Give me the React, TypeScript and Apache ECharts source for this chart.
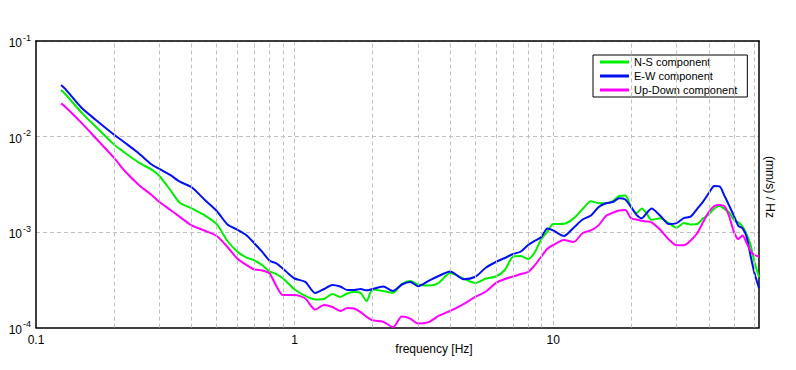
import React, { useEffect, useRef } from 'react';
import * as echarts from 'echarts';

// Frequency samples [Hz]
const frequencies = [
  0.125, 0.13, 0.15, 0.17, 0.2, 0.22, 0.25, 0.28, 0.3, 0.33,
  0.36, 0.4, 0.45, 0.5, 0.55, 0.6, 0.65, 0.7, 0.75, 0.8,
  0.85, 0.9, 0.95, 1.0, 1.1, 1.2, 1.3, 1.4, 1.5, 1.6,
  1.7, 1.8, 1.9, 2.0, 2.2, 2.4, 2.6, 2.8, 3.0, 3.3,
  3.6, 4.0, 4.5, 5.0, 5.5, 6.0, 6.5, 7.0, 7.5, 8.0,
  8.5, 9.0, 9.5, 10, 11, 12, 13, 14, 15, 16,
  17, 18, 19, 20, 21, 22, 23, 24, 26, 28,
  30, 32, 34, 36, 38, 40, 42, 44, 46, 48,
  50, 52, 54, 56, 58, 60, 62.5,
];

// (mm/s)/Hz
const nsComponent = [
  0.0307, 0.0277, 0.0178, 0.0127, 0.00827, 0.0068, 0.00532, 0.0045, 0.00386, 0.00277,
  0.00202, 0.00177, 0.00149, 0.00121, 0.000805, 0.000625, 0.000541, 0.000503, 0.000448, 0.000387,
  0.000363, 0.000328, 0.000285, 0.00025, 0.000214, 0.000197, 0.000199, 0.000224, 0.000209, 0.000227,
  0.000235, 0.00023, 0.00019, 0.00025, 0.000241, 0.000231, 0.000285, 0.000307, 0.000282, 0.000275,
  0.000292, 0.000372, 0.000325, 0.000292, 0.000326, 0.000342, 0.0004, 0.000554, 0.000561, 0.000522,
  0.000618, 0.000845, 0.00101, 0.00121, 0.00122, 0.00139, 0.00174, 0.0021, 0.002, 0.002,
  0.00211, 0.00238, 0.00241, 0.00183, 0.00158, 0.00176, 0.00156, 0.00134, 0.00139, 0.00124,
  0.00111, 0.00124, 0.0012, 0.00121, 0.00139, 0.00153, 0.00176, 0.00187, 0.00174, 0.00159,
  0.00134, 0.00126, 0.00114, 0.000942, 0.000731, 0.000485, 0.000338,
];

const ewComponent = [
  0.0346, 0.0313, 0.02, 0.015, 0.0105, 0.00866, 0.00665, 0.00509, 0.00459, 0.00396,
  0.00336, 0.00294, 0.00216, 0.00166, 0.0012, 0.00106, 0.00093, 0.000758, 0.000618, 0.000501,
  0.00047, 0.000415, 0.000363, 0.000326, 0.0003, 0.00023, 0.000253, 0.000279, 0.000269, 0.000247,
  0.000247, 0.000253, 0.000245, 0.000253, 0.000268, 0.000241, 0.000282, 0.0003, 0.000271, 0.000307,
  0.000346, 0.000386, 0.00032, 0.00034, 0.000425, 0.000485, 0.000534, 0.000588, 0.000625, 0.000731,
  0.000811, 0.000887, 0.00109, 0.00104, 0.000908, 0.00111, 0.00135, 0.00149, 0.00183, 0.002,
  0.00206, 0.00225, 0.00219, 0.00183, 0.00151, 0.00139, 0.00158, 0.00176, 0.00147, 0.00121,
  0.00124, 0.0014, 0.00145, 0.00174, 0.00208, 0.00256, 0.00303, 0.003, 0.00238, 0.00187,
  0.00147, 0.00116, 0.00109, 0.000887, 0.000561, 0.000372, 0.000259,
];

const udComponent = [
  0.0222, 0.0204, 0.0139, 0.00965, 0.006, 0.00438, 0.00311, 0.00244, 0.00206, 0.00171,
  0.00144, 0.00117, 0.00103, 0.000908, 0.000697, 0.000528, 0.000453, 0.000405, 0.000395, 0.000368,
  0.000272, 0.000219, 0.000219, 0.000219, 0.000201, 0.000154, 0.000172, 0.000164, 0.000149, 0.00016,
  0.000158, 0.000145, 0.000129, 0.000119, 0.000115, 0.000101, 0.00013, 0.000124, 0.00011, 0.000114,
  0.000132, 0.000149, 0.000176, 0.000209, 0.000238, 0.000292, 0.000322, 0.000342, 0.000363, 0.000381,
  0.000451, 0.000554, 0.000667, 0.000731, 0.000825, 0.000786, 0.000976, 0.00104, 0.00118, 0.00147,
  0.00159, 0.00168, 0.0017, 0.00139, 0.00135, 0.00131, 0.00129, 0.00126, 0.00105, 0.000835,
  0.000726, 0.000726, 0.000815, 0.000965, 0.00127, 0.00162, 0.00187, 0.00192, 0.00185, 0.00144,
  0.001, 0.000845, 0.000919, 0.000767, 0.000632, 0.000574, 0.000554,
];

const minorGridFreqs = [
  0.2, 0.3, 0.4, 0.5, 0.6, 0.7, 0.8, 0.9,
  2, 3, 4, 5, 6, 7, 8, 9,
  20, 30, 40, 50, 60,
];

const seriesNames = ['N-S component', 'E-W component', 'Up-Down component'];
const seriesColors = ['#00ee00', '#0010f0', '#ff00ff'];
const xAxisTitle = 'frequency [Hz]';
const yAxisTitle = '(mm/s) / Hz';

export default function App() {
  const ref = useRef<HTMLDivElement>(null);

  useEffect(() => {
    document.body.style.margin = '0';
    const chart = echarts.init(ref.current!, null, { renderer: 'svg' });
    const font = "'Liberation Sans', Arial, Helvetica, sans-serif";
    const pairs = (vals: number[]) => frequencies.map((f, i) => [f, vals[i]]);
    const gridLine = { color: '#c0c0c0', type: [4, 3], width: 1 };
    const valuesList = [nsComponent, ewComponent, udComponent];

    chart.setOption({
      animation: false,
      textStyle: { fontFamily: font, color: '#000' },
      grid: {
        left: 36, right: 37, top: 41, bottom: 42.5,
        show: false,
      },
      xAxis: [
        {
          type: 'log', logBase: 10, min: 0.1, max: 62.5,
          axisLine: { show: true, onZero: false, lineStyle: { color: '#000', width: 1.5 } },
          axisTick: { show: false },
          splitLine: { show: true, showMinLine: false, showMaxLine: false, lineStyle: gridLine },
          axisLabel: {
            color: '#000', fontSize: 12, fontFamily: font, margin: 6,
            formatter: (v: number) => {
              const e = Math.log10(v);
              if (Math.abs(e - Math.round(e)) > 1e-6) return '';
              return v >= 1 ? String(Math.round(v)) : String(v);
            },
          },
        },
        {
          type: 'log', logBase: 10, min: 0.1, max: 62.5, position: 'top',
          axisLine: { show: true, onZero: false, lineStyle: { color: '#000', width: 1.5 } },
          axisTick: { show: false }, axisLabel: { show: false }, splitLine: { show: false },
        },
      ],
      yAxis: [
        {
          type: 'log', logBase: 10, min: 0.0001, max: 0.1,
          axisLine: { show: true, onZero: false, lineStyle: { color: '#000', width: 1.5 } },
          axisTick: { show: false },
          splitLine: { show: true, showMinLine: false, showMaxLine: false, lineStyle: gridLine },
          axisLabel: {
            margin: 5,
            formatter: (v: number) => `{b|10}{s|${Math.round(Math.log10(v))}}`,
            rich: {
              b: { fontSize: 12, fontFamily: font, color: '#000', verticalAlign: 'bottom', lineHeight: 16 },
              s: { fontSize: 9, fontFamily: font, color: '#000', verticalAlign: 'top', lineHeight: 16, padding: [0, 0, 0, 1] },
            },
          },
        },
        {
          type: 'log', logBase: 10, min: 0.0001, max: 0.1, position: 'right',
          axisLine: { show: true, onZero: false, lineStyle: { color: '#000', width: 1.5 } },
          axisTick: { show: false }, axisLabel: { show: false }, splitLine: { show: false },
        },
      ],
      legend: {
        left: 593, top: 55, orient: 'vertical',
        icon: 'rect', itemWidth: 29, itemHeight: 3, itemGap: 0,
        padding: [0, 10, 0, 7],
        borderColor: '#000', borderWidth: 1, backgroundColor: '#fff',
        selectedMode: false,
        textStyle: { fontSize: 11, lineHeight: 14, fontFamily: font, color: '#000' },
        data: seriesNames,
      },
      graphic: [
        {
          type: 'text', x: 434, y: 349,
          style: { text: xAxisTitle, fontSize: 12, fontFamily: font, fill: '#000', align: 'center', verticalAlign: 'middle' },
        },
        {
          type: 'text', x: 770, y: 187, rotation: -Math.PI / 2,
          style: { text: yAxisTitle, fontSize: 12, fontFamily: font, fill: '#000', align: 'center', verticalAlign: 'middle' },
        },
      ],
      series: [
        {
          type: 'line', data: [], silent: true, z: 1,
          markLine: {
            silent: true, symbol: ['none', 'none'], label: { show: false },
            lineStyle: gridLine, emphasis: { disabled: true },
            data: minorGridFreqs.map((f) => ({ xAxis: f })),
          },
        },
        ...seriesNames.map((name, i) => ({
          name, type: 'line', data: pairs(valuesList[i]),
          showSymbol: false, symbol: 'none', color: seriesColors[i], smooth: 0.25,
          lineStyle: { width: 2, color: seriesColors[i] },
          emphasis: { disabled: true }, z: 3,
        })),
      ],
    });
    return () => chart.dispose();
  }, []);

  return <div ref={ref} style={{ width: 796, height: 370 }} />;
}
